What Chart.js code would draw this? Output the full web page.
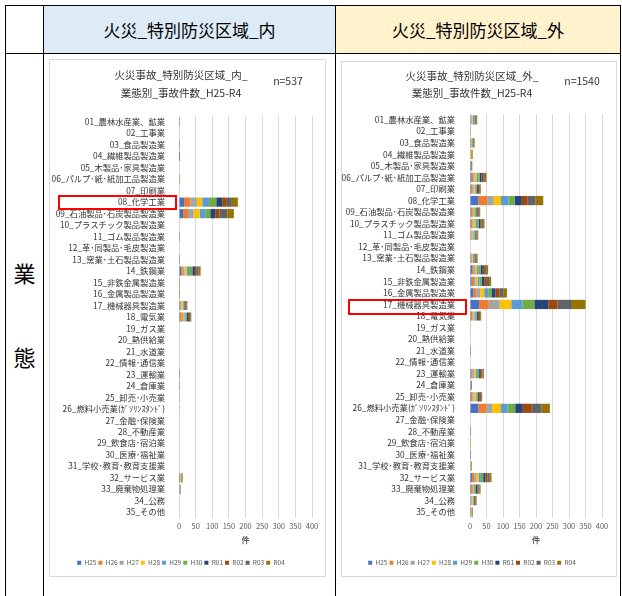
<!DOCTYPE html>
<html lang="ja">
<head>
<meta charset="utf-8">
<script src="https://cdn.jsdelivr.net/npm/chart.js@4.4.0/dist/chart.umd.min.js"></script>
<style>
body { margin:0; width:622px; height:596px; background:#fff; position:relative; overflow:hidden; font-family:"Noto Sans CJK JP", sans-serif; }
.ln { position:absolute; background:#000; }
.hd { position:absolute; top:6px; height:47px; display:flex; align-items:center; justify-content:center; font-size:17px; color:#000; }
.side { position:absolute; left:6px; width:37px; text-align:center; font-size:22px; line-height:30px; color:#000; }
.panel { position:absolute; border:1px solid #d9d9d9; box-sizing:border-box; background:#fff; }
.panel canvas { position:absolute; left:0; top:0; }
.n { position:absolute; font-size:10.5px; color:#333; transform:translate(-50%,-50%); white-space:nowrap; }
.mark { position:absolute; border:2px solid #ff0000; box-sizing:border-box; }
</style>
</head>
<body>
<div class="hd" style="left:44px;width:291px;background:#ddebf7;">火災_特別防災区域_内</div>
<div class="hd" style="left:336px;width:284px;background:#fff2cc;">火災_特別防災区域_外</div>
<div class="ln" style="left:5px;top:5px;width:616px;height:1px;"></div>
<div class="ln" style="left:5px;top:53px;width:616px;height:1px;"></div>
<div class="ln" style="left:5px;top:5px;width:1px;height:591px;"></div>
<div class="ln" style="left:43px;top:5px;width:1px;height:591px;"></div>
<div class="ln" style="left:335px;top:5px;width:1px;height:591px;"></div>
<div class="ln" style="left:620px;top:5px;width:1px;height:591px;"></div>
<div class="side" style="top:257px;">業</div>
<div class="side" style="top:341px;">態</div>

<div class="panel" style="left:49px;top:59px;width:277px;height:518px;"><canvas id="inside" width="275" height="516"></canvas></div>
<div class="panel" style="left:341px;top:61px;width:276px;height:516px;"><canvas id="outside" width="274" height="514"></canvas></div>
<div class="n" style="left:288px;top:80px;">n=537</div>
<div class="n" style="left:582px;top:80px;">n=1540</div>
<div class="mark" style="left:58px;top:195px;width:119px;height:15px;"></div>
<div class="mark" style="left:348px;top:299px;width:119px;height:16px;"></div>

<script>
const years = ['H25','H26','H27','H28','H29','H30','R01','R02','R03','R04'];
const yearColors = ['#4472C4','#ED7D31','#A5A5A5','#FFC000','#5B9BD5','#70AD47','#264478','#9E480E','#636363','#997300'];

const categories = [
	'01_農林水産業、鉱業', '02_工事業', '03_食品製造業', '04_繊維製品製造業', '05_木製品･家具製造業',
	'06_パルプ･紙･紙加工品製造業', '07_印刷業', '08_化学工業', '09_石油製品･石炭製品製造業', '10_プラスチック製品製造業',
	'11_ゴム製品製造業', '12_革･同製品･毛皮製造業', '13_窯業･土石製品製造業', '14_鉄鋼業', '15_非鉄金属製造業',
	'16_金属製品製造業', '17_機械器具製造業', '18_電気業', '19_ガス業', '20_熱供給業',
	'21_水道業', '22_情報･通信業', '23_運輸業', '24_倉庫業', '25_卸売･小売業',
	'26_燃料小売業(ｶﾞｿﾘﾝｽﾀﾝﾄﾞ)', '27_金融･保険業', '28_不動産業', '29_飲食店･宿泊業', '30_医療･福祉業',
	'31_学校･教育･教育支援業', '32_サービス業', '33_廃棄物処理業', '34_公務', '35_その他'
];

const xTicks = [0, 50, 100, 150, 200, 250, 300, 350, 400];

// one row per category, columns H25..R04
const insideRows = [
	[0,1,0,0,0,0,0,1,0,0],
	[0,0,0,0,0,0,0,0,0,0],
	[0,0,0,0,0,1,0,0,1,0],
	[0,1,0,0,0,0,0,2,0,0],
	[0,0,0,0,0,0,0,0,0,0],
	[0,0,0,0,0,1,0,0,0,1],
	[0,0,0,0,0,0,0,0,0,0],
	[15,19,20,16,20,22,18,14,15,18],
	[12,15,17,18,17,15,15,13,23,20],
	[0,0,0,0,0,0,0,0,0,0],
	[0,1,0,0,0,0,0,0,1,0],
	[0,0,0,0,0,0,0,0,0,0],
	[0,0,0,0,0,1,0,0,1,0],
	[6,5,5,7,7,10,8,5,6,6],
	[0,1,0,0,0,0,0,1,0,0],
	[0,0,0,0,0,0,0,1,0,1],
	[3,2,2,4,2,3,3,2,2,2],
	[3,5,4,4,4,3,4,3,4,3],
	[0,0,0,0,0,0,0,0,0,0],
	[0,0,0,0,0,0,0,0,0,0],
	[0,0,0,0,0,0,0,0,0,0],
	[0,0,0,0,0,0,0,0,0,0],
	[0,0,0,1,0,0,0,0,1,1],
	[0,0,0,0,0,1,0,0,1,0],
	[1,0,1,0,0,0,0,0,0,0],
	[0,0,1,1,0,0,0,0,0,0],
	[0,0,0,0,0,0,0,0,0,0],
	[0,0,0,0,0,0,0,0,0,0],
	[0,0,0,0,0,0,0,0,0,0],
	[0,0,0,0,0,0,0,0,0,0],
	[0,0,0,0,0,0,0,0,0,0],
	[1,3,1,1,1,3,0,1,0,1],
	[0,1,1,0,1,0,0,1,1,0],
	[0,0,0,0,0,0,0,0,0,0],
	[0,0,0,0,0,0,0,0,0,0]
];

const outsideRows = [
	[2,2,3,2,3,2,2,2,2,2],
	[0,0,1,1,0,1,0,0,0,0],
	[1,1,1,1,2,2,2,1,1,2],
	[0,1,0,2,0,1,0,1,1,2],
	[1,0,1,0,0,1,1,1,1,1],
	[5,5,4,6,5,5,5,5,5,5],
	[3,5,3,3,3,3,4,4,3,2],
	[25,27,20,22,23,18,22,18,24,23],
	[3,3,3,4,3,3,3,3,3,3],
	[3,4,3,6,5,5,5,4,5,4],
	[2,3,3,2,3,3,2,2,3,2],
	[0,0,0,0,0,0,0,0,0,0],
	[2,3,2,2,3,2,2,3,2,2],
	[6,5,5,5,5,6,7,6,5,5],
	[5,7,5,6,6,6,8,8,7,6],
	[10,10,11,12,12,10,12,13,11,11],
	[27,30,33,35,34,36,42,28,44,41],
	[3,4,3,3,4,3,4,3,4,3],
	[0,0,1,0,0,0,0,0,0,0],
	[0,0,0,0,0,0,0,0,0,0],
	[0,0,0,0,1,2,0,0,0,0],
	[0,0,0,0,0,0,0,0,0,0],
	[4,4,5,4,4,5,4,4,4,4],
	[0,1,1,0,1,0,1,1,0,1],
	[3,4,4,6,3,3,4,3,4,3],
	[25,24,18,27,20,23,23,27,30,25],
	[0,0,0,0,0,0,0,0,0,0],
	[0,0,0,0,1,1,0,0,1,0],
	[0,0,1,1,0,0,0,0,0,1],
	[1,0,0,0,2,0,0,0,0,0],
	[0,1,1,1,0,1,0,1,0,1],
	[6,7,6,7,7,7,7,6,6,6],
	[3,3,3,3,3,3,4,4,3,3],
	[2,2,2,2,2,2,2,2,2,2],
	[1,1,1,1,0,1,1,1,1,1]
];

const F = '"Noto Sans CJK JP", sans-serif';

function draw(id, rows, title, cfg) {
	var datasets = years.map(function(y, j) {
		return {
			label: y,
			data: rows.map(function(r) { return r[j]; }),
			backgroundColor: yearColors[j],
			borderWidth: 0,
			barPercentage: 0.8,
			categoryPercentage: 1
		};
	});

	new Chart(document.getElementById(id), {
		type: 'bar',
		data: { labels: categories, datasets: datasets },
		options: {
			indexAxis: 'y',
			responsive: false,
			animation: false,
			devicePixelRatio: 1,
			layout: { padding: { left: 0, right: cfg.padRight, top: 0, bottom: 0 } },
			plugins: {
				title: {
					display: true,
					text: title,
					color: '#333',
					font: { family: F, size: 10.5, weight: 'normal', lineHeight: cfg.titleLine },
					padding: { top: 6, bottom: cfg.titleGap }
				},
				legend: {
					position: 'bottom',
					labels: { boxWidth: 4, boxHeight: 4, padding: 2, color: '#595959', font: { family: F, size: 6.5 } }
				},
				tooltip: { enabled: false }
			},
			scales: {
				x: {
					stacked: true,
					min: xTicks[0],
					max: xTicks[xTicks.length - 1],
					afterBuildTicks: function(s) { s.ticks = xTicks.map(function(v) { return { value: v }; }); },
					ticks: { padding: 3.5, color: '#595959', autoSkip: false, maxRotation: 0, minRotation: 0, font: { family: F, size: 7.5 } },
					grid: { color: '#d9d9d9', drawTicks: false },
					border: { display: false },
					title: {
						display: true, text: '件', color: '#595959',
						font: { family: F, size: 8, weight: 'bold' },
						padding: { top: 1.2, bottom: 12.7 }
					}
				},
				y: {
					stacked: true,
					ticks: { autoSkip: false, padding: cfg.labelGap, color: '#333', font: { family: F, size: 8.3 } },
					grid: { display: false },
					border: { display: false },
					afterFit: function(s) { s.width = cfg.plotLeft; }
				}
			}
		}
	});
}

draw('inside', insideRows, ['火災事故_特別防災区域_内_', '業態別_事故件数_H25-R4'],
	{ padRight: 13, titleGap: 14, titleLine: '18px', labelGap: 6, plotLeft: 129 });
draw('outside', outsideRows, ['火災事故_特別防災区域_外_', '業態別_事故件数_H25-R4'],
	{ padRight: 14, titleGap: 12, titleLine: '17px', labelGap: 7, plotLeft: 128 });
</script>
</body>
</html>
